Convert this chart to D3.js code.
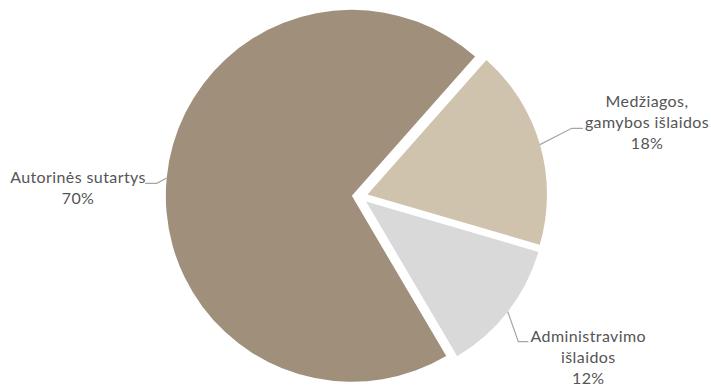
<!DOCTYPE html>
<html>
<head>
<meta charset="utf-8">
<script src="https://cdn.jsdelivr.net/npm/d3@7"></script>
<style>
  html, body { margin: 0; padding: 0; background: #ffffff; }
  svg { display: block; }
</style>
</head>
<body>
<svg id="chart" width="711" height="387"></svg>
<script>
// ---- data ----
const categories = ["Medžiagos, gamybos išlaidos", "Administravimo išlaidos", "Autorinės sutartys"];
const labelLines = [["Medžiagos,", "gamybos išlaidos"], ["Administravimo", "išlaidos"], ["Autorinės sutartys"]];
const values = [18, 12, 70];
const percentLabels = ["18%", "12%", "70%"];

// ---- styles / layout ----
const colors = ["#D0C3AE", "#D9D9D9", "#9F8F7B"];
const center = [359.8, 196.6];
const explode = 8;
const radii = [179.5, 179.5, 186];
const startDeg = 41.5;
const labelLayout = [
  { elbow: [571.7, 128.3], end: [583, 128.3], tx: 647, ty0: 106.7 },
  { elbow: [518.3, 341.7], end: [528.3, 341.7], tx: 588.3, ty0: 341.7 },
  { elbow: [156.7, 183.3], end: [145, 183.3], tx: 78, ty0: 183.3 }
];
const lineStep = 21;

const svg = d3.select("#chart");
const start = startDeg * Math.PI / 180;
const pie = d3.pie().sort(null).value(d => d).startAngle(start).endAngle(start + 2 * Math.PI);
const arcsData = pie(values);

const g = svg.append("g");
arcsData.forEach((a, i) => {
  const mid = (a.startAngle + a.endAngle) / 2;
  const cx = center[0] + explode * Math.sin(mid);
  const cy = center[1] - explode * Math.cos(mid);
  const arc = d3.arc().innerRadius(0).outerRadius(radii[i]);
  g.append("path")
    .attr("d", arc(a))
    .attr("transform", `translate(${cx},${cy})`)
    .attr("fill", colors[i]);

  // leader line from arc edge at bisector
  const sx = cx + radii[i] * Math.sin(mid);
  const sy = cy - radii[i] * Math.cos(mid);
  const L = labelLayout[i];
  svg.append("path")
    .attr("d", d3.line()([[sx, sy], L.elbow, L.end]))
    .attr("fill", "none")
    .attr("stroke", "#A6A6A6")
    .attr("stroke-width", 1.2);

  const lines = labelLines[i].concat([percentLabels[i]]);
  const t = svg.append("text")
    .attr("text-anchor", "middle")
    .attr("font-family", "Lato, 'Open Sans', sans-serif")
    .attr("font-size", "16px")
    .attr("letter-spacing", "0.4px")
    .attr("fill", "#555555");
  lines.forEach((ln, k) => {
    t.append("tspan").attr("x", L.tx).attr("y", L.ty0 + k * lineStep).text(ln);
  });
});
</script>
</body>
</html>
